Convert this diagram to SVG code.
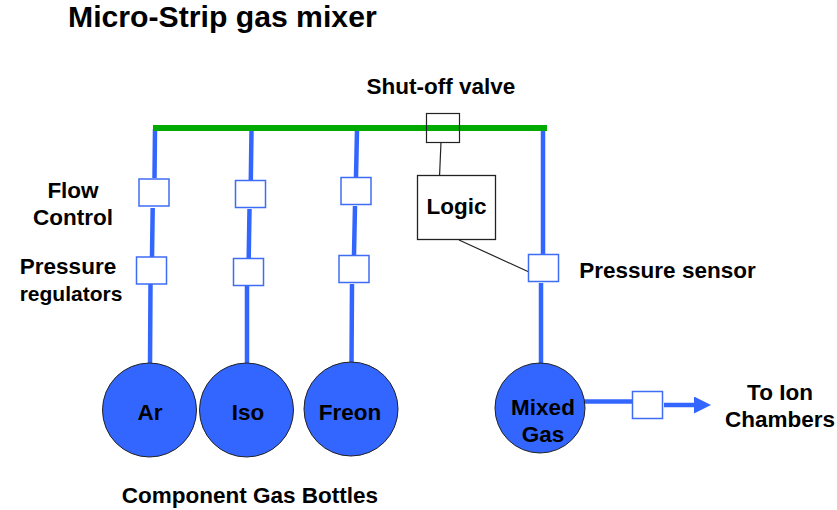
<svg xmlns="http://www.w3.org/2000/svg" width="837" height="510" viewBox="0 0 837 510">
<style>
text{font-family:"Liberation Sans",Arial,sans-serif;font-weight:bold;font-size:22.500px;fill:#000;text-anchor:middle}
.title{font-size:30.200px;text-anchor:start}
.small{font-size:21px}
.pipe{stroke:#3366ff;stroke-width:4.5;fill:none}
.box{fill:#fff;stroke:#3f6cf5;stroke-width:1.5}
.bottle{fill:#3366ff;stroke:#222;stroke-width:1}
.thin{stroke:#222;stroke-width:1.2;fill:none}
</style>
<defs><marker id="arrow" markerUnits="userSpaceOnUse" markerWidth="18" markerHeight="18" refX="0" refY="8.5" orient="auto"><path d="M0 0L17 8.500L0 17Z" fill="#3366ff"/></marker></defs>
<rect width="837" height="510" fill="#fff"/>
<text class="title" x="68" y="27">Micro-Strip gas mixer</text>
<g id="connectors">
<path class="pipe" d="M155 129L154.500 178M152.700 208L152 257M150.500 284L150 366"/>
<path class="pipe" d="M251.500 130L250.800 180M249.500 209L248.700 258M247 286L247 366"/>
<path class="pipe" d="M357 130L356 177M355 206L354 255M352 284L351.500 364"/>
<path class="pipe" d="M543 127L543 255M541 283L541 364"/>
<path class="pipe" d="M584 401.500L632 401.500"/>
<path class="pipe" d="M664 405L694 405" marker-end="url(#arrow)"/>
<path d="M153 128H547" stroke="#00aa00" stroke-width="6" fill="none"/>
<path class="thin" d="M441 142L439.500 177M459 240L529 272"/>
</g>
<g id="shutoff-valve"><rect x="426.500" y="113.500" width="33" height="29" fill="none" stroke="#222" stroke-width="1.200"/><text x="441" y="94">Shut-off valve</text></g>
<g id="logic"><rect x="417.500" y="175.500" width="78" height="64" fill="#fff" stroke="#222" stroke-width="1.300"/><text x="456.500" y="214">Logic</text></g>
<g id="flow-ar"><rect class="box" x="139" y="179" width="30" height="27"/></g>
<g id="flow-iso"><rect class="box" x="235.500" y="180.500" width="30" height="27"/></g>
<g id="flow-freon"><rect class="box" x="341" y="177.500" width="30" height="27"/></g>
<g id="reg-ar"><rect class="box" x="136.500" y="257" width="30" height="27"/></g>
<g id="reg-iso"><rect class="box" x="233.500" y="258.500" width="30" height="27"/></g>
<g id="reg-freon"><rect class="box" x="339" y="255.500" width="30" height="27"/></g>
<g id="pressure-sensor"><rect class="box" x="528.500" y="254.500" width="30" height="27"/><text x="667.500" y="278">Pressure sensor</text></g>
<g id="out-valve"><rect class="box" x="632.500" y="391.500" width="30" height="27"/></g>
<g id="bottle-ar"><circle class="bottle" cx="149.500" cy="410" r="47"/><text x="150" y="420">Ar</text></g>
<g id="bottle-iso"><circle class="bottle" cx="246.500" cy="410" r="47"/><text x="248" y="420">Iso</text></g>
<g id="bottle-freon"><circle class="bottle" cx="351" cy="409" r="47"/><text x="350" y="420">Freon</text></g>
<g id="bottle-mixed"><circle class="bottle" cx="540" cy="408" r="45"/><text x="543" y="415">Mixed</text><text x="543" y="442">Gas</text></g>
<g id="labels">
<text x="73" y="198">Flow</text><text x="73" y="225">Control</text>
<text x="68" y="274">Pressure</text><text class="small" x="71" y="301">regulators</text>
<text x="780" y="400">To Ion</text><text x="780" y="427">Chambers</text>
<text x="250" y="503">Component Gas Bottles</text>
</g>
</svg>
